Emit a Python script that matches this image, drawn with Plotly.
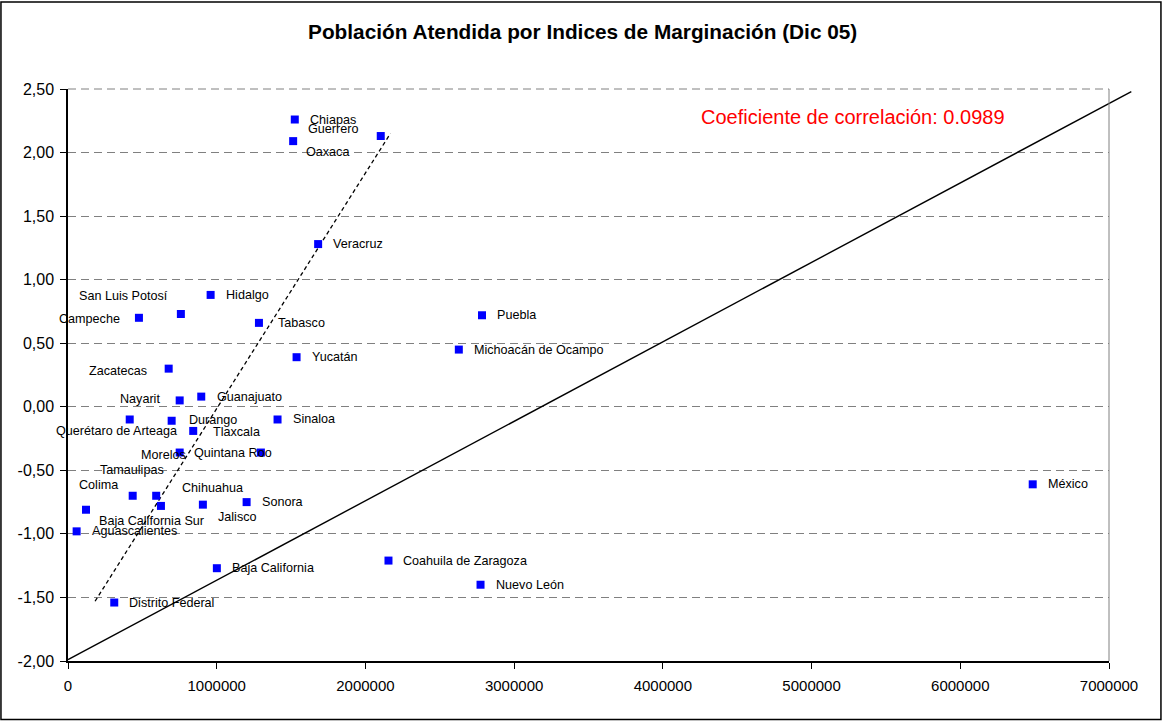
"""
Población atendida vs. índice de marginación por entidad (Dic 05).
"""

import plotly.graph_objects as go

# --- data ---
states = [
    "Chiapas", "Oaxaca", "Guerrero", "Veracruz", "Hidalgo", "San Luis Potosí",
    "Campeche", "Tabasco", "Yucatán", "Zacatecas", "Nayarit", "Guanajuato",
    "Querétaro de Arteaga", "Durango", "Sinaloa", "Tlaxcala", "Morelos",
    "Quintana Roo", "Tamaulipas", "Baja California Sur", "Chihuahua", "Jalisco",
    "Sonora", "Colima", "Aguascalientes", "Baja California", "Distrito Federal",
    "Coahuila de Zaragoza", "Nuevo León", "Puebla", "Michoacán de Ocampo", "México",
]
poblacion = [
    1525000, 1514000, 2103000, 1682000, 959000, 759000,
    477000, 1284000, 1537000, 677000, 751000, 896000,
    415000, 697000, 1409000, 842000, 751000,
    1297000, 435000, 593000, 625000, 907000,
    1201000, 121000, 58000, 1001000, 311000,
    2155000, 2774000, 2784000, 2628000, 6487000,
]
marginacion = [
    2.26, 2.09, 2.13, 1.28, 0.88, 0.73,
    0.70, 0.66, 0.39, 0.30, 0.05, 0.08,
    -0.10, -0.11, -0.10, -0.19, -0.36,
    -0.36, -0.70, -0.70, -0.78, -0.77,
    -0.75, -0.81, -0.98, -1.27, -1.54,
    -1.21, -1.40, 0.72, 0.45, -0.61,
]

# hand-drawn guide lines of the original
guide_x = [0, 7150000]
guide_y = [-1.99, 2.48]
dashed_x = [182000, 2168000]
dashed_y = [-1.53, 2.15]

correlacion = 0.0989

x_range = [0, 7000000]
y_range = [-2.0, 2.5]
x_ticks = [0, 1000000, 2000000, 3000000, 4000000, 5000000, 6000000, 7000000]
y_ticks = [2.5, 2.0, 1.5, 1.0, 0.5, 0.0, -0.5, -1.0, -1.5, -2.0]

FONT = "Arial, Liberation Sans, sans-serif"
GRID = "#808080"
GRID_DASH = "8px,5px"

# label placement (xanchor, xshift px, yshift px); default is right of marker
label_pos = {
    "Guerrero": ("left", -75, 7),
    "Oaxaca": ("left", 11, -11),
    "San Luis Potosí": ("right", -11, 18),
    "Campeche": ("right", -17, -1),
    "Tabasco": ("left", 17, 0),
    "Zacatecas": ("right", -20, -2),
    "Nayarit": ("right", -18, 1),
    "Guanajuato": ("left", 14, 0),
    "Querétaro de Arteaga": ("center", -13, -12),
    "Durango": ("left", 15, 1),
    "Tlaxcala": ("left", 18, -1),
    "Morelos": ("right", 8, -2),
    "Quintana Roo": ("left", -69, 0),
    "Tamaulipas": ("center", -1, 26),
    "Colima": ("center", 13, 25),
    "Chihuahua": ("center", 52, 18),
    "Jalisco": ("center", 35, -12),
    "Baja California Sur": ("center", -5, -25),
}

fig = go.Figure()

fig.add_trace(go.Scatter(
    x=dashed_x,
    y=dashed_y,
    mode="lines",
    line=dict(color="black", width=1.3, dash="4px,3px"),
    hoverinfo="skip",
    showlegend=False,
))

fig.add_trace(go.Scatter(
    x=poblacion,
    y=marginacion,
    mode="markers",
    marker=dict(symbol="square", size=8, color="#0000FF"),
    text=states,
    showlegend=False,
))

for name, xv, yv in zip(states, poblacion, marginacion):
    anchor, dx, dy = label_pos.get(name, ("left", 13, 0))
    fig.add_annotation(
        x=xv, y=yv, xref="x", yref="y",
        text=name, showarrow=False,
        xanchor=anchor, yanchor="middle",
        xshift=dx, yshift=dy,
        font=dict(family=FONT, size=12.6, color="black"),
    )

# solid guide line runs past the plot frame, so draw it in domain units
def to_dom(v, rng):
    return (v - rng[0]) / (rng[1] - rng[0])

fig.add_shape(
    type="line", xref="x domain", yref="y domain",
    x0=to_dom(guide_x[0], x_range), y0=to_dom(guide_y[0], y_range),
    x1=to_dom(guide_x[1], x_range), y1=to_dom(guide_y[1], y_range),
    line=dict(color="black", width=1.4),
)

# plot area frame: dashed top, solid grey right
fig.add_shape(type="line", xref="paper", yref="paper", x0=0, x1=1, y0=1, y1=1,
              line=dict(color=GRID, width=1, dash=GRID_DASH), layer="below")
fig.add_shape(type="line", xref="paper", yref="paper", x0=1, x1=1, y0=0, y1=1,
              line=dict(color=GRID, width=1))
# outer chart border
fig.add_shape(type="rect", xref="paper", yref="paper",
              x0=-0.0644, x1=1.0499, y0=-0.1023, y1=1.152,
              line=dict(color="black", width=1.5))

fig.add_annotation(
    xref="paper", yref="paper", x=0.606, y=0.951,
    xanchor="left", yanchor="middle", showarrow=False,
    text=f"Coeficiente de correlación: {correlacion}",
    font=dict(family=FONT, size=20, color="#FF0000"),
)

fig.update_layout(
    width=1163,
    height=721,
    margin=dict(l=68, r=54, t=89, b=60),
    paper_bgcolor="white",
    plot_bgcolor="white",
    font=dict(family=FONT, color="black"),
    title=dict(
        text="<b>Población Atendida por Indices de Marginación (Dic 05)</b>",
        x=0.501, xanchor="center", y=1 - 32 / 721, yanchor="middle",
        font=dict(family=FONT, size=20.8, color="black"),
    ),
    showlegend=False,
)

fig.update_xaxes(
    range=x_range,
    tickvals=x_ticks,
    ticktext=[str(v) for v in x_ticks],
    showgrid=False,
    zeroline=False,
    showline=True, linecolor="black", linewidth=1.5,
    ticks="outside", ticklen=6, tickcolor="black", tickwidth=1,
    tickfont=dict(family=FONT, size=15, color="black"),
    ticklabelstandoff=4,
)

fig.update_yaxes(
    range=y_range,
    tickvals=y_ticks,
    ticktext=[f"{v:.2f}".replace(".", ",") for v in y_ticks],
    showgrid=True, gridcolor=GRID, gridwidth=1, griddash=GRID_DASH,
    zeroline=False,
    showline=True, linecolor="black", linewidth=1.5,
    ticks="outside", ticklen=6, tickcolor="black", tickwidth=1,
    tickfont=dict(family=FONT, size=16, color="black"),
    ticklabelstandoff=3,
)

fig.write_html(
    "out.html",
    config={"displayModeBar": False},
    post_script="document.body.style.margin='0';",
)
